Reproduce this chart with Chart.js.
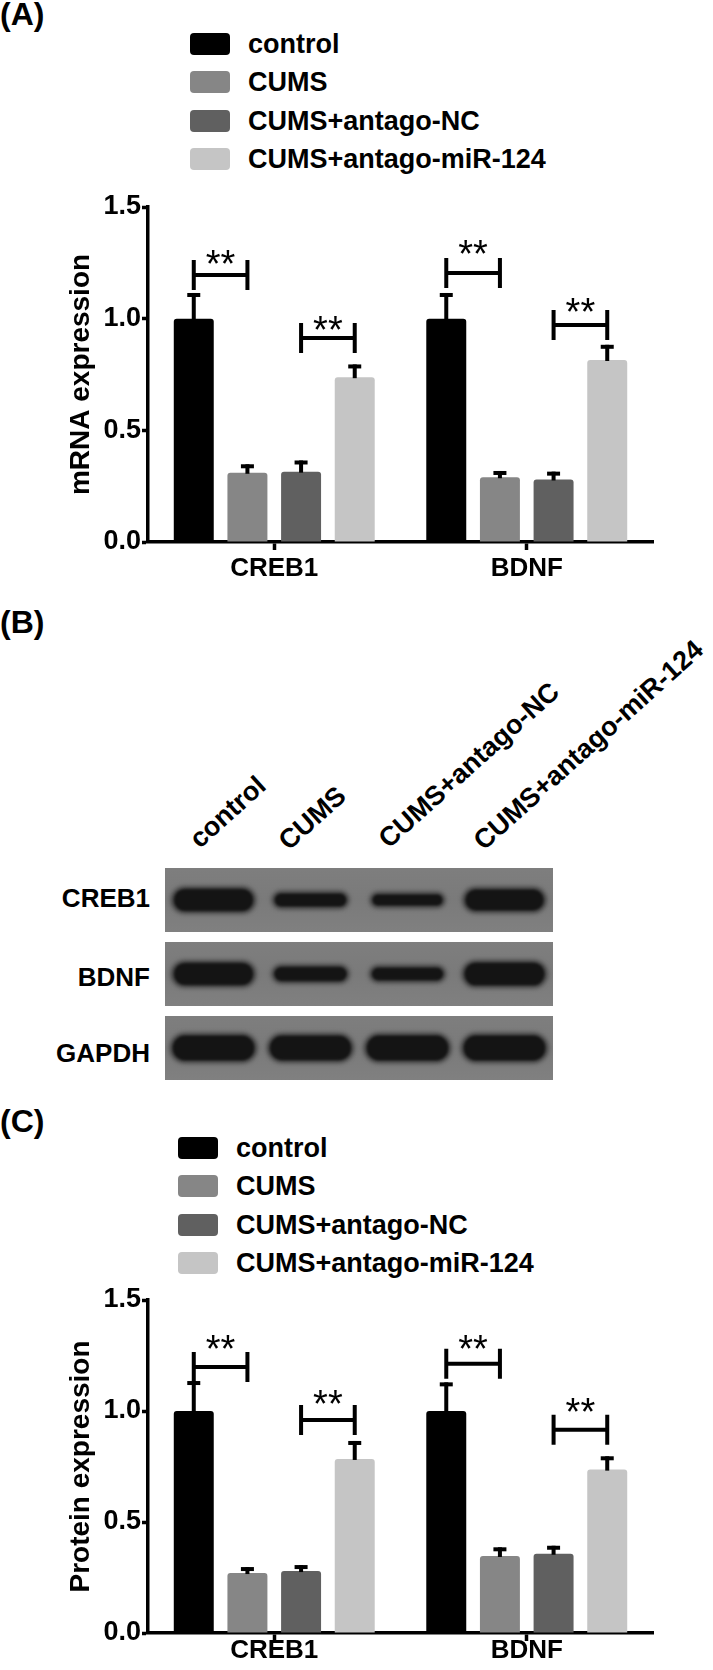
<!DOCTYPE html>
<html><head><meta charset="utf-8">
<script src="https://cdn.jsdelivr.net/npm/chart.js@4.4.0/dist/chart.umd.min.js"></script>
<style>
html,body{margin:0;padding:0;background:#fff;}
#page{position:relative;width:713px;height:1670px;overflow:hidden;background:#fff;font-family:"Liberation Sans",Arial,sans-serif;font-weight:bold;color:#000;}
.plabel{position:absolute;left:0;font-size:32px;line-height:32px;}
.leg{position:absolute;display:flex;align-items:center;height:22px;font-size:27px;line-height:22px;white-space:nowrap;}
.leg i{display:inline-block;width:40px;height:22px;border-radius:4px;margin-right:18px;}
.lane{position:absolute;font-size:27px;line-height:27px;white-space:nowrap;transform-origin:0 100%;transform:rotate(-42deg);}
.row{position:absolute;width:150px;left:0;text-align:right;font-size:26px;line-height:26px;}
canvas{position:absolute;}
</style></head><body>
<div id="page">
  <div class="plabel" style="top:-2px">(A)</div>
  <div class="plabel" style="top:606px">(B)</div>
  <div class="plabel" style="top:1105px">(C)</div>
  <div id="legA"></div>
  <div id="legC"></div>
  <canvas id="chartA" width="713" height="420" style="left:0;top:180px;width:713px;height:420px"></canvas>
  <canvas id="blot" width="388" height="222" style="left:165px;top:863px;width:388px;height:222px"></canvas>
  <div id="blotText"></div>
  <canvas id="chartC" width="713" height="390" style="left:0;top:1280px;width:713px;height:390px"></canvas>
</div>
<script>
// ---------- data ----------
const categories = ['CREB1', 'BDNF'];
const groups = ['control', 'CUMS', 'CUMS+antago-NC', 'CUMS+antago-miR-124'];
const groupColors = ['#000000', '#868686', '#606060', '#c5c5c5'];
const yTicks = ['0.0', '0.5', '1.0', '1.5'];

// (A) mRNA expression
const mrnaControl = [1.00, 1.00];
const mrnaCUMS    = [0.31, 0.29];
const mrnaNC      = [0.315, 0.28];
const mrnaMiR     = [0.738, 0.815];
const mrnaControlErr = [0.115, 0.115];
const mrnaCUMSErr    = [0.038, 0.028];
const mrnaNCErr      = [0.05, 0.035];
const mrnaMiRErr     = [0.057, 0.068];
// significance brackets: [category, group a, group b, bracket value]
const mrnaSig   = [[0, 0, 1, 1.195], [0, 2, 3, 0.913], [1, 0, 1, 1.205], [1, 2, 3, 0.972]];
const mrnaStarY = [1.285, 0.99, 1.33, 1.07];
const mrnaSigLabel = ['**', '**', '**', '**'];

// (C) Protein expression
const protControl = [1.00, 1.00];
const protCUMS    = [0.27, 0.347];
const protNC      = [0.279, 0.357];
const protMiR     = [0.784, 0.736];
const protControlErr = [0.135, 0.129];
const protCUMSErr    = [0.027, 0.039];
const protNCErr      = [0.027, 0.036];
const protMiRErr     = [0.081, 0.06];
const protSig   = [[0, 0, 1, 1.198], [0, 2, 3, 0.96], [1, 0, 1, 1.213], [1, 2, 3, 0.916]];
const protStarY = [1.32, 1.07, 1.32, 1.035];
const protSigLabel = ['**', '**', '**', '**'];

// (B) western blot relative band densities
const blotProteins = ['CREB1', 'BDNF', 'GAPDH'];
const creb1Density = [1.0, 0.62, 0.54, 0.95];
const bdnfDensity  = [1.0, 0.66, 0.60, 1.03];
const gapdhDensity = [1.12, 1.10, 1.12, 1.12];

// ---------- page text ----------
function buildLegend(id, left, top) {
  const el = document.getElementById(id);
  groups.forEach((g, i) => {
    const d = document.createElement('div');
    d.className = 'leg';
    d.style.left = left + 'px';
    d.style.top = (top + i * 38.4) + 'px';
    d.innerHTML = '<i style="background:' + groupColors[i] + '"></i><span>' + g + '</span>';
    el.appendChild(d);
  });
}
buildLegend('legA', 190, 33);
buildLegend('legC', 178, 1137);

(function blotText() {
  const el = document.getElementById('blotText');
  const laneStarts = [[203, 853], [292, 855], [392, 853], [487, 855]];
  groups.forEach((g, i) => {
    const d = document.createElement('div');
    d.className = 'lane';
    d.style.left = laneStarts[i][0] + 'px';
    d.style.top = (laneStarts[i][1] - 27) + 'px';
    d.textContent = g;
    el.appendChild(d);
  });
  const rowTops = [885, 964, 1040];
  blotProteins.forEach((p, i) => {
    const d = document.createElement('div');
    d.className = 'row';
    d.style.top = rowTops[i] + 'px';
    d.textContent = p;
    el.appendChild(d);
  });
})();

// ---------- charts ----------
Chart.defaults.font.family = '"Liberation Sans", Arial, sans-serif';
Chart.defaults.font.weight = 'bold';
Chart.defaults.color = '#000';

const errorBarPlugin = {
  id: 'errbars',
  afterDatasetsDraw(chart) {
    const {ctx, scales: {y}} = chart;
    ctx.save();
    ctx.fillStyle = '#000';
    chart.data.datasets.forEach((ds, di) => {
      const meta = chart.getDatasetMeta(di);
      meta.data.forEach((bar, i) => {
        const top = y.getPixelForValue(ds.data[i]);
        const capY = y.getPixelForValue(ds.data[i] + ds.errors[i]);
        ctx.fillRect(bar.x - 2, capY, 4, top - capY + 1);
        ctx.fillRect(bar.x - 6.5, capY, 13, 4);
      });
    });
    ctx.restore();
  }
};

function sigPlugin(sig, starY, labels) {
  return {
    id: 'sig',
    afterDatasetsDraw(chart) {
      const {ctx, scales: {y}} = chart;
      ctx.save();
      ctx.strokeStyle = '#000';
      ctx.fillStyle = '#000';
      ctx.lineWidth = 4;
      ctx.lineCap = 'butt';
      sig.forEach((s, k) => {
        const [cat, a, b, v] = s;
        const xa = chart.getDatasetMeta(a).data[cat].x;
        const xb = chart.getDatasetMeta(b).data[cat].x;
        const py = y.getPixelForValue(v);
        ctx.beginPath();
        ctx.moveTo(xa, py); ctx.lineTo(xb, py);
        ctx.moveTo(xa, py - 15); ctx.lineTo(xa, py + 15);
        ctx.moveTo(xb, py - 15); ctx.lineTo(xb, py + 15);
        ctx.stroke();
        ctx.font = 'normal 38px "Liberation Sans", Arial, sans-serif';
        ctx.textAlign = 'center';
        ctx.textBaseline = 'alphabetic';
        const sy = y.getPixelForValue(starY[k]);
        ctx.fillText(labels[k], (xa + xb) / 2, sy + 0.57 * 38);
      });
      ctx.restore();
    }
  };
}

function makeBarChart(id, series, errs, sig, starY, sigLabels, title, padTop, xHeight, xPad) {
  return new Chart(document.getElementById(id), {
    type: 'bar',
    data: {
      labels: categories,
      datasets: groups.map((g, i) => ({
        label: g,
        data: series[i],
        errors: errs[i],
        backgroundColor: groupColors[i],
        borderRadius: 3,
        borderSkipped: 'bottom',
        barPercentage: 0.745,
        categoryPercentage: 0.85
      }))
    },
    options: {
      responsive: false,
      animation: false,
      layout: {padding: {top: padTop, right: 60, left: 0, bottom: 0}},
      plugins: {legend: {display: false}, tooltip: {enabled: false}, title: {display: false}},
      scales: {
        x: {
          grid: {display: true, drawOnChartArea: false, drawTicks: true, tickLength: 8, tickWidth: 3.5, tickColor: '#000', offset: false},
          border: {display: true, color: '#000', width: 3.5},
          ticks: {color: '#000', font: {size: 26, weight: 'bold', lineHeight: 1}, padding: xPad, maxRotation: 0},
          afterFit: s => { s.height = xHeight; }
        },
        y: {
          min: 0, max: 1.5,
          ticks: {stepSize: 0.5, color: '#000', font: {size: 27, weight: 'bold'}, padding: 1, callback: (v, i) => yTicks[i]},
          grid: {display: true, drawOnChartArea: false, drawTicks: true, tickLength: 6, tickWidth: 3.5, tickColor: '#000'},
          border: {display: true, color: '#000', width: 3.5},
          title: {display: true, text: title, color: '#000', font: {size: 28, weight: 'bold'}, padding: {top: 64, bottom: 0}},
          afterFit: s => { s.width = 148; }
        }
      }
    },
    plugins: [errorBarPlugin, sigPlugin(sig, starY, sigLabels)]
  });
}

makeBarChart('chartA',
  [mrnaControl, mrnaCUMS, mrnaNC, mrnaMiR],
  [mrnaControlErr, mrnaCUMSErr, mrnaNCErr, mrnaMiRErr],
  mrnaSig, mrnaStarY, mrnaSigLabel, 'mRNA expression', 27, 58, 6.3);

makeBarChart('chartC',
  [protControl, protCUMS, protNC, protMiR],
  [protControlErr, protCUMSErr, protNCErr, protMiRErr],
  protSig, protStarY, protSigLabel, 'Protein expression', 20, 37, -2.7);

// ---------- western blot ----------
const blotDensities = [creb1Density, bdnfDensity, gapdhDensity];
new Chart(document.getElementById('blot'), {
  type: 'scatter',
  data: {datasets: []},
  options: {
    responsive: false, animation: false,
    layout: {padding: 0},
    plugins: {legend: {display: false}, tooltip: {enabled: false}},
    scales: {
      x: {type: 'linear', min: 0, max: 4, display: false},
      y: {type: 'linear', min: -0.5, max: 2.5, reverse: true, display: false}
    }
  },
  plugins: [{
    id: 'bands',
    afterDraw(chart) {
      const {ctx, chartArea: a, scales: {x, y}} = chart;
      const rowH = Math.abs(y.getPixelForValue(1) - y.getPixelForValue(0));
      const half = rowH / 2 - 5;
      ctx.save();
      blotProteins.forEach((p, r) => {
        const cy = y.getPixelForValue(r);
        const grd = ctx.createLinearGradient(0, cy - half, 0, cy + half);
        grd.addColorStop(0, '#7e7e7e');
        grd.addColorStop(0.5, '#7a7a7a');
        grd.addColorStop(1, '#808080');
        ctx.fillStyle = grd;
        ctx.fillRect(a.left, cy - half, a.right - a.left, 2 * half);
        blotDensities[r].forEach((d, i) => {
          const cx = x.getPixelForValue(i + 0.5);
          const w = 62 + 20 * d;
          const h = 24 * d;
          ctx.save();
          ctx.filter = 'blur(2.5px)';
          ctx.fillStyle = '#2a2a2a';
          ctx.beginPath();
          ctx.roundRect(cx - w / 2 - 1, cy - h / 2 - 1, w + 2, h + 2, (h + 2) / 2);
          ctx.fill();
          ctx.filter = 'blur(1.2px)';
          ctx.fillStyle = '#141414';
          ctx.beginPath();
          ctx.roundRect(cx - w / 2 + 2, cy - h / 2 + 1.5, w - 4, h - 3, (h - 3) / 2);
          ctx.fill();
          ctx.restore();
        });
      });
      ctx.restore();
    }
  }]
});
</script>
</body></html>
